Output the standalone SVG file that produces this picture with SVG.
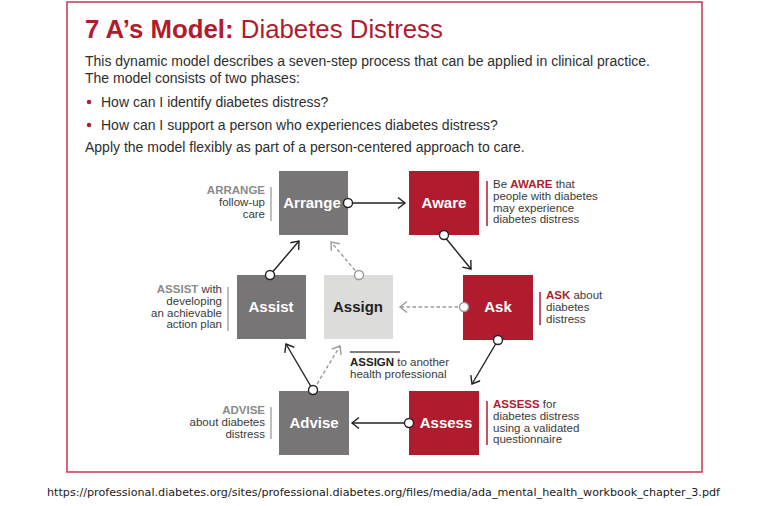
<svg xmlns="http://www.w3.org/2000/svg" width="767" height="506" viewBox="0 0 767 506">
<defs>
<style>
.t{font-family:"Liberation Sans",Arial,sans-serif}
.body{font-size:14px;fill:#2e2e2e}
.ann{font-size:11.5px;fill:#3a3a3a}
.bg{font-weight:bold;fill:#8a8a8a}
.br{font-weight:bold;fill:#b01c2e}
.bk{font-weight:bold;fill:#222}
.lbl{font-size:15px;font-weight:bold;fill:#fff;text-anchor:middle}
.dk{fill:#777575}
.rd{fill:#b01c2e}
.lt{fill:#dcdcdb}
.gbar{stroke:#a8a8a8;stroke-width:1.5}
.rbar{stroke:#b01c2e;stroke-width:1.5}
.s{stroke:#222;stroke-width:1.4;fill:none}
.d{stroke:#9a9a9a;stroke-width:1.4;fill:none;stroke-dasharray:3.5 2.5}
.c{fill:#fff;stroke:#222;stroke-width:1.4}
.cd{fill:#fff;stroke:#9a9a9a;stroke-width:1.4}
</style>
<marker id="ah" markerUnits="userSpaceOnUse" markerWidth="12" markerHeight="14" refX="8" refY="6" orient="auto">
<path d="M1,0.5 L8,6 L1,11.5" fill="none" stroke="#222" stroke-width="1.4"/>
</marker>
<marker id="ahd" markerUnits="userSpaceOnUse" markerWidth="12" markerHeight="14" refX="8" refY="6" orient="auto">
<path d="M1,0.5 L8,6 L1,11.5" fill="none" stroke="#9a9a9a" stroke-width="1.4"/>
</marker>
</defs>
<rect width="767" height="506" fill="#fff"/>
<rect x="67" y="2" width="635" height="470" fill="none" stroke="#cc4060" stroke-width="1.6"/>

<g id="header" class="t">
<text x="85" y="38" font-size="25.8" fill="#b01c2e"><tspan font-weight="bold">7 A’s Model:</tspan> Diabetes Distress</text>
<text class="body" x="85" y="66">This dynamic model describes a seven-step process that can be applied in clinical practice.</text>
<text class="body" x="85" y="83">The model consists of two phases:</text>
<circle cx="89" cy="102" r="2.2" fill="#b01c2e"/>
<text class="body" x="101" y="107">How can I identify diabetes distress?</text>
<circle cx="89" cy="125" r="2.2" fill="#b01c2e"/>
<text class="body" x="101" y="130">How can I support a person who experiences diabetes distress?</text>
<text class="body" x="85" y="152">Apply the model flexibly as part of a person-centered approach to care.</text>
</g>

<g id="connectors">
<line class="s" x1="348" y1="203" x2="405" y2="203" marker-end="url(#ah)"/>
<line class="s" x1="444" y1="236" x2="471" y2="269" marker-end="url(#ah)"/>
<line class="d" x1="464" y1="307" x2="400" y2="307" marker-end="url(#ahd)"/>
<line class="s" x1="498" y1="340" x2="472" y2="384" marker-end="url(#ah)"/>
<line class="s" x1="409" y1="423" x2="352" y2="423" marker-end="url(#ah)"/>
<line class="s" x1="313" y1="390" x2="286" y2="344" marker-end="url(#ah)"/>
<line class="d" x1="314" y1="389" x2="340" y2="346" marker-end="url(#ahd)"/>
<line class="s" x1="270" y1="275" x2="299" y2="241" marker-end="url(#ah)"/>
<line class="d" x1="359" y1="275" x2="331" y2="242" marker-end="url(#ahd)"/>
</g>

<g id="node-arrange" class="t">
<rect class="dk" x="279" y="171" width="69" height="64"/>
<text class="lbl" x="312" y="208">Arrange</text>
<line class="gbar" x1="271" y1="187" x2="271" y2="221"/>
<text class="ann" text-anchor="end"><tspan class="bg" x="265" y="194">ARRANGE</tspan><tspan x="265" y="206">follow-up</tspan><tspan x="265" y="217.5">care</tspan></text>
</g>

<g id="node-aware" class="t">
<rect class="rd" x="409" y="171" width="70" height="64"/>
<text class="lbl" x="444" y="208">Aware</text>
<line class="rbar" x1="487" y1="181" x2="487" y2="226"/>
<text class="ann"><tspan x="493" y="188">Be <tspan class="br">AWARE</tspan> that</tspan><tspan x="493" y="200">people with diabetes</tspan><tspan x="493" y="211.5">may experience</tspan><tspan x="493" y="223">diabetes distress</tspan></text>
</g>

<g id="node-ask" class="t">
<rect class="rd" x="463" y="275" width="70" height="65"/>
<text class="lbl" x="498" y="312">Ask</text>
<line class="rbar" x1="540" y1="292" x2="540" y2="325"/>
<text class="ann"><tspan x="546" y="299"><tspan class="br">ASK</tspan> about</tspan><tspan x="546" y="311">diabetes</tspan><tspan x="546" y="322.5">distress</tspan></text>
</g>

<g id="node-assign" class="t">
<rect class="lt" x="324" y="275" width="69" height="64"/>
<text class="lbl" x="358" y="312" style="fill:#222">Assign</text>
<line x1="350" y1="352" x2="400" y2="352" stroke="#555" stroke-width="1.5"/>
<text class="ann"><tspan x="350" y="366"><tspan class="bk">ASSIGN</tspan> to another</tspan><tspan x="350" y="377.5">health professional</tspan></text>
</g>

<g id="node-assist" class="t">
<rect class="dk" x="237" y="275" width="69" height="64"/>
<text class="lbl" x="271" y="312">Assist</text>
<line class="gbar" x1="228" y1="287" x2="228" y2="331"/>
<text class="ann" text-anchor="end"><tspan x="222" y="293"><tspan class="bg">ASSIST</tspan> with</tspan><tspan x="222" y="305">developing</tspan><tspan x="222" y="316.5">an achievable</tspan><tspan x="222" y="328">action plan</tspan></text>
</g>

<g id="node-advise" class="t">
<rect class="dk" x="279" y="391" width="70" height="64"/>
<text class="lbl" x="314" y="428">Advise</text>
<line class="gbar" x1="271" y1="407" x2="271" y2="439"/>
<text class="ann" text-anchor="end"><tspan class="bg" x="265" y="414">ADVISE</tspan><tspan x="265" y="426">about diabetes</tspan><tspan x="265" y="437.5">distress</tspan></text>
</g>

<g id="node-assess" class="t">
<rect class="rd" x="409" y="391" width="70" height="64"/>
<text class="lbl" x="446" y="428">Assess</text>
<line class="rbar" x1="487" y1="401" x2="487" y2="445"/>
<text class="ann"><tspan x="493" y="408"><tspan class="br">ASSESS</tspan> for</tspan><tspan x="493" y="420">diabetes distress</tspan><tspan x="493" y="431.5">using a validated</tspan><tspan x="493" y="443">questionnaire</tspan></text>
</g>

<g id="ports">
<circle class="c" cx="348" cy="203" r="4.5"/>
<circle class="c" cx="444" cy="235" r="4.5"/>
<circle class="cd" cx="464" cy="307" r="4.5"/>
<circle class="c" cx="498" cy="340" r="4.5"/>
<circle class="c" cx="409" cy="423" r="4.5"/>
<circle class="c" cx="313" cy="390" r="4.5"/>
<circle class="c" cx="270" cy="275" r="4.5"/>
<circle class="cd" cx="359" cy="275" r="4.5"/>
</g>

<text x="47" y="496" font-family="DejaVu Sans,Verdana,sans-serif" font-size="11" fill="#1a1a1a" textLength="673" lengthAdjust="spacingAndGlyphs">https://professional.diabetes.org/sites/professional.diabetes.org/files/media/ada_mental_health_workbook_chapter_3.pdf</text>
</svg>
